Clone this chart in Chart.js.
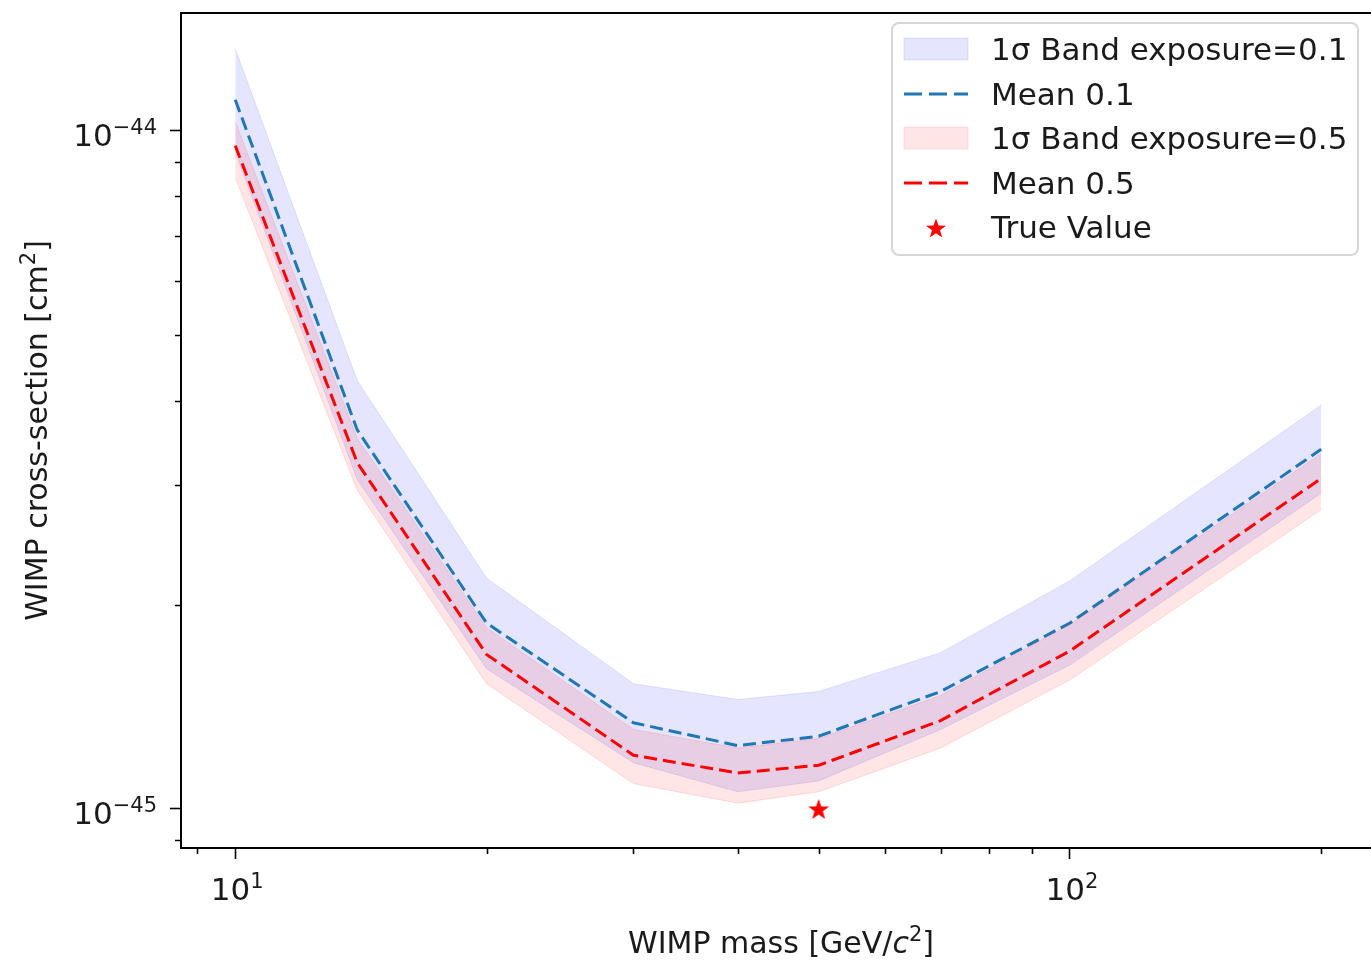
<!DOCTYPE html>
<html>
<head>
<meta charset="utf-8">
<script src="https://cdn.jsdelivr.net/npm/chart.js@4.4.0/dist/chart.umd.min.js"></script>
<style>
  html, body { margin:0; padding:0; background:#fff; overflow:hidden; }
  #wrap { position:relative; width:1388px; height:960px; }
  #legend {
    position:absolute; left:891px; top:22px; width:468px; height:234px;
    border:2px solid #d6d6d6; border-radius:8px; background:rgba(255,255,255,0.85);
    box-sizing:border-box; font-family:"DejaVu Sans", sans-serif; font-size:31px; color:#1a1a1a;
  }
  .row { position:absolute; left:0; height:40px; display:flex; align-items:center; }
  .row span { position:absolute; left:98px; white-space:nowrap; }
  .row svg { position:absolute; left:10px; }
</style>
</head>
<body>
<div id="wrap">
  <canvas id="c" width="1388" height="960"></canvas>
  <div id="legend"></div>
</div>
<script>
// ---------- DATA ----------
const mass = [10, 14, 20, 30, 40, 50, 70, 100, 200];
const mean01 = [1.11e-44, 3.62e-45, 1.88e-45, 1.34e-45, 1.24e-45, 1.28e-45, 1.49e-45, 1.88e-45, 3.39e-45];
const hi01   = [1.32e-44, 4.28e-45, 2.19e-45, 1.53e-45, 1.45e-45, 1.49e-45, 1.70e-45, 2.17e-45, 3.94e-45];
const lo01   = [9.3e-45, 3.06e-45, 1.61e-45, 1.17e-45, 1.06e-45, 1.10e-45, 1.31e-45, 1.63e-45, 2.92e-45];
const mean05 = [9.5e-45, 3.24e-45, 1.69e-45, 1.20e-45, 1.13e-45, 1.16e-45, 1.35e-45, 1.71e-45, 3.07e-45];
const hi05   = [1.03e-44, 3.52e-45, 1.85e-45, 1.31e-45, 1.23e-45, 1.27e-45, 1.47e-45, 1.87e-45, 3.34e-45];
const lo05   = [8.53e-45, 2.95e-45, 1.53e-45, 1.09e-45, 1.02e-45, 1.06e-45, 1.23e-45, 1.55e-45, 2.76e-45];
const trueMass = [50];
const trueSigma = [1e-45];

// tick values, labels as [base, exponent]
const xMajor = [10, 100];
const xMajorLabels = [['10','1'], ['10','2']];
const xMinor = [9, 20, 30, 40, 50, 60, 70, 80, 90, 200];
const yMajor = [1e-45, 1e-44];
const yMajorLabels = [['10','\u221245'], ['10','\u221244']];
const yMinor = [9e-46, 2e-45, 3e-45, 4e-45, 5e-45, 6e-45, 7e-45, 8e-45, 9e-45];

const legendItems = [
  { kind:'patch', color:'rgba(0,0,255,0.1)', label:'1σ Band exposure=0.1' },
  { kind:'line',  color:'#1f77b4', label:'Mean 0.1' },
  { kind:'patch', color:'rgba(255,0,0,0.1)', label:'1σ Band exposure=0.5' },
  { kind:'line',  color:'#ff0000', label:'Mean 0.5' },
  { kind:'star',  color:'#ff0000', label:'True Value' }
];

// ---------- helpers ----------
const pts = ys => mass.map((m,i)=>({x:m, y:ys[i]}));
const FAM = '"DejaVu Sans", sans-serif';
const TXT = '#1a1a1a';

function starPath(ctx, cx, cy, R, r){
  ctx.beginPath();
  for(let i=0;i<10;i++){
    const rad = i%2===0 ? R : r;
    const a = -Math.PI/2 + i*Math.PI/5;
    ctx.lineTo(cx + rad*Math.cos(a), cy + rad*Math.sin(a));
  }
  ctx.closePath();
}
const starImg = document.createElement('canvas');
starImg.width = 24; starImg.height = 24;
(function(){
  const g = starImg.getContext('2d');
  g.fillStyle = '#ff0000';
  starPath(g, 12, 13, 11, 4.4);
  g.fill();
})();

// pieces: [{t, size, style, rise}] drawn left to right from x on baseline y
function runWidth(ctx, pieces){
  let w = 0;
  pieces.forEach(p => { ctx.font = `${p.style||''} ${p.size}px ${FAM}`; w += ctx.measureText(p.t).width; });
  return w;
}
function drawRun(ctx, pieces, x, y){
  pieces.forEach(p => {
    ctx.font = `${p.style||''} ${p.size}px ${FAM}`;
    ctx.fillText(p.t, x, y - (p.rise||0));
    x += ctx.measureText(p.t).width;
  });
}
const powPieces = lab => [{t:lab[0], size:31}, {t:lab[1], size:21, rise:12}];

// ---------- legend (html) ----------
const legendDiv = document.getElementById('legend');
legendItems.forEach((it, i) => {
  const row = document.createElement('div');
  row.className = 'row';
  row.style.top = (5 + i*44.5) + 'px';
  let svg;
  if(it.kind === 'patch'){
    svg = `<svg width="66" height="40"><rect x="1" y="9" width="64" height="22" fill="${it.color}" stroke="${it.color}"/></svg>`;
  } else if(it.kind === 'line'){
    svg = `<svg width="66" height="40"><line x1="1" y1="20" x2="65" y2="20" stroke="${it.color}" stroke-width="3.2" stroke-dasharray="18,7"/></svg>`;
  } else {
    let p = [];
    for(let k=0;k<10;k++){
      const rr = k%2 ? 4.2 : 10.5;
      const a = -Math.PI/2 + k*Math.PI/5;
      p.push((33+rr*Math.cos(a)).toFixed(1)+','+(22+rr*Math.sin(a)).toFixed(1));
    }
    svg = `<svg width="66" height="40"><polygon fill="${it.color}" points="${p.join(' ')}"/></svg>`;
  }
  row.innerHTML = svg + `<span>${it.label}</span>`;
  legendDiv.appendChild(row);
});

// ---------- frame, minor ticks, labels ----------
const framePlugin = {
  id:'frame',
  afterDraw(chart){
    const {ctx, chartArea:a, scales} = chart;
    ctx.save();
    ctx.strokeStyle = '#000';
    ctx.lineWidth = 2;
    ctx.strokeRect(a.left, a.top, a.right - a.left, a.bottom - a.top);
    ctx.lineWidth = 1.6;
    ctx.beginPath();
    xMinor.forEach(v => {
      const px = Math.round(scales.x.getPixelForValue(v)) + 0.5;
      ctx.moveTo(px, a.bottom); ctx.lineTo(px, a.bottom + 6);
    });
    yMinor.forEach(v => {
      const py = Math.round(scales.y.getPixelForValue(v)) + 0.5;
      ctx.moveTo(a.left, py); ctx.lineTo(a.left - 6, py);
    });
    ctx.stroke();

    // tick labels
    ctx.fillStyle = TXT;
    ctx.textBaseline = 'alphabetic';
    ctx.textAlign = 'left';
    xMajor.forEach((v,i) => {
      const px = scales.x.getPixelForValue(v);
      const pieces = powPieces(xMajorLabels[i]);
      const w = runWidth(ctx, pieces);
      drawRun(ctx, pieces, px - w/2 + 2, a.bottom + 52);
    });
    yMajor.forEach((v,i) => {
      const py = scales.y.getPixelForValue(v);
      const pieces = powPieces(yMajorLabels[i]);
      const w = runWidth(ctx, pieces);
      drawRun(ctx, pieces, a.left - 24 - w, py + 15);
    });

    // axis titles
    const xt = [{t:'WIMP mass [GeV/', size:30}, {t:'c', size:30, style:'italic'},
                {t:'2', size:21, rise:12}, {t:']', size:30}];
    const xw = runWidth(ctx, xt);
    drawRun(ctx, xt, 781 - xw/2, 953);

    const yt = [{t:'WIMP cross-section [cm', size:30}, {t:'2', size:21, rise:12}, {t:']', size:30}];
    const yw = runWidth(ctx, yt);
    ctx.translate(47, (a.top + a.bottom)/2);
    ctx.rotate(-Math.PI/2);
    drawRun(ctx, yt, -yw/2, 0);
    ctx.restore();
  }
};

// ---------- chart ----------
const noPad = s => { s.paddingTop = 0; s.paddingBottom = 0; s.paddingLeft = 0; s.paddingRight = 0; };
new Chart(document.getElementById('c'), {
  type:'line',
  data:{
    datasets:[
      { data: trueMass.map((m,i)=>({x:m, y:trueSigma[i]})), type:'scatter', pointStyle: starImg, pointRadius: 12, order:0 },
      { data: pts(mean05), borderColor:'#ff0000', borderWidth:3, borderDash:[13,6], pointRadius:0, fill:false, order:1 },
      { data: pts(lo05), borderColor:'rgba(255,0,0,0.12)', borderWidth:1, pointRadius:0, fill:false, order:2 },
      { data: pts(hi05), borderColor:'rgba(255,0,0,0.12)', borderWidth:1, pointRadius:0, fill:2, backgroundColor:'rgba(255,0,0,0.1)', order:2 },
      { data: pts(mean01), borderColor:'#1f77b4', borderWidth:3, borderDash:[13,6], pointRadius:0, fill:false, order:3 },
      { data: pts(lo01), borderColor:'rgba(0,0,255,0.1)', borderWidth:1, pointRadius:0, fill:false, order:4 },
      { data: pts(hi01), borderColor:'rgba(0,0,255,0.1)', borderWidth:1, pointRadius:0, fill:5, backgroundColor:'rgba(0,0,255,0.1)', order:4 }
    ]
  },
  options:{
    responsive:false,
    animation:false,
    layout:{ padding:{ top:12, right:6, left:0, bottom:0 } },
    plugins:{ legend:{ display:false }, tooltip:{ enabled:false } },
    elements:{ line:{ tension:0 } },
    scales:{
      x:{
        type:'logarithmic', min:8.61, max:232, bounds:'data',
        afterBuildTicks: s => { s.ticks = xMajor.map(v=>({value:v, major:true})); },
        afterFit: s => { s.height = 112; noPad(s); },
        border:{ display:false },
        grid:{ drawOnChartArea:false, drawTicks:true, tickLength:11, tickWidth:1.6, tickColor:'#000' },
        ticks:{ display:false, autoSkip:false }
      },
      y:{
        type:'logarithmic', min:8.76e-46, max:1.49e-44, bounds:'data',
        afterBuildTicks: s => { s.ticks = yMajor.map(v=>({value:v, major:true})); },
        afterFit: s => { s.width = 181; noPad(s); },
        border:{ display:false },
        grid:{ drawOnChartArea:false, drawTicks:true, tickLength:11, tickWidth:1.6, tickColor:'#000' },
        ticks:{ display:false, autoSkip:false }
      }
    }
  },
  plugins:[framePlugin]
});
</script>
</body>
</html>
